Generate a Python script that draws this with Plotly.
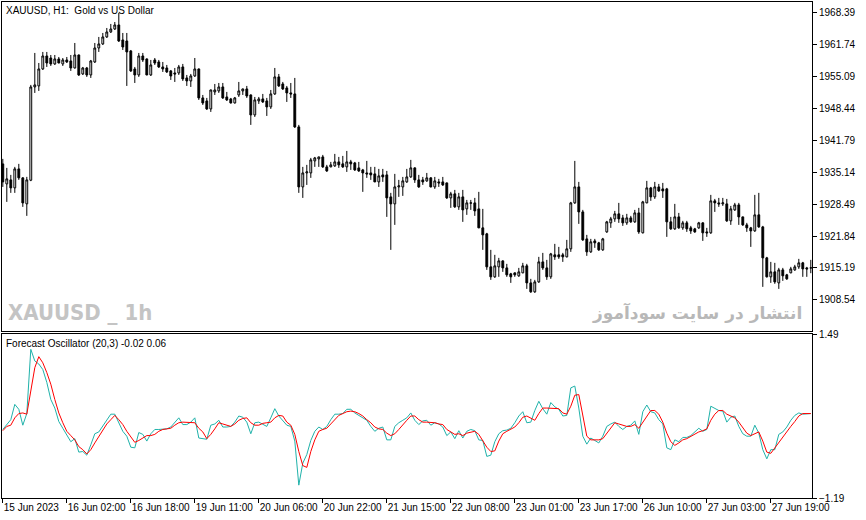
import plotly.graph_objects as go
from plotly.subplots import make_subplots

# bar numbers on the time axis (H1 bars, weekend gaps removed)
bars = list(range(203))

opens = [
    1936.90, 1932.73, 1933.57, 1931.90, 1935.86, 1933.99, 1928.57, 1933.50, 1952.96, 1953.17,
    1956.71, 1959.42, 1959.00, 1957.76, 1958.80, 1957.76, 1958.59, 1958.38, 1956.92, 1959.63,
    1955.67, 1956.92, 1955.46, 1958.17, 1961.09, 1961.93, 1963.39, 1964.43, 1965.05, 1965.89,
    1962.76, 1962.55, 1960.47, 1956.71, 1955.46, 1959.42, 1958.80, 1955.46, 1958.59, 1958.17,
    1957.13, 1956.92, 1956.30, 1955.88, 1955.88, 1957.13, 1954.84, 1954.21, 1955.25, 1956.71,
    1950.67, 1950.04, 1948.37, 1951.92, 1952.13, 1952.96, 1950.87, 1950.46, 1949.62, 1951.29,
    1952.13, 1952.54, 1951.29, 1947.12, 1950.04, 1950.46, 1950.04, 1948.79, 1951.50, 1955.05,
    1953.58, 1952.75, 1951.71, 1951.50, 1944.62, 1932.10, 1935.02, 1935.02, 1937.53, 1937.94,
    1938.36, 1936.28, 1936.28, 1936.49, 1937.32, 1936.91, 1936.28, 1937.32, 1937.11, 1936.07,
    1935.65, 1935.02, 1935.02, 1934.82, 1933.15, 1934.61, 1934.61, 1930.02, 1928.56, 1932.10,
    1932.10, 1933.15, 1934.19, 1936.07, 1933.57, 1933.57, 1933.36, 1933.99, 1932.10, 1933.15,
    1933.15, 1932.94, 1929.81, 1930.65, 1927.94, 1930.02, 1927.52, 1928.70, 1928.77, 1927.52,
    1923.56, 1922.31, 1915.42, 1913.34, 1915.42, 1916.67, 1915.21, 1913.96, 1914.17, 1913.55,
    1914.17, 1915.63, 1912.08, 1910.21, 1912.29, 1916.46, 1915.21, 1913.34, 1917.93, 1917.93,
    1917.93, 1917.51, 1919.18, 1928.77, 1932.10, 1926.89, 1921.26, 1918.55, 1920.84, 1920.43,
    1918.97, 1922.72, 1924.60, 1925.43, 1926.48, 1925.64, 1924.60, 1925.64, 1924.81, 1926.68,
    1922.52, 1928.77, 1931.90, 1930.02, 1932.10, 1931.69, 1931.69, 1924.81, 1923.35, 1925.85,
    1923.56, 1924.60, 1923.56, 1923.35, 1923.56, 1924.60, 1922.72, 1922.52, 1929.19, 1928.77,
    1928.56, 1928.56, 1925.02, 1927.31, 1928.35, 1925.85, 1924.18, 1923.56, 1922.93, 1926.27,
    1923.76, 1917.30, 1913.34, 1914.38, 1912.08, 1914.79, 1913.76, 1914.17, 1914.79, 1915.42,
    1916.26, 1915.21, 1915.21,
]

highs = [
    1937.95, 1936.07, 1934.61, 1936.28, 1936.91, 1934.10, 1934.20, 1953.38, 1960.05, 1957.96,
    1960.26, 1960.26, 1959.63, 1959.63, 1959.21, 1959.00, 1959.21, 1959.63, 1962.13, 1959.70,
    1957.13, 1957.13, 1958.59, 1962.13, 1963.39, 1964.22, 1965.26, 1966.10, 1966.51, 1968.39,
    1964.22, 1964.22, 1960.67, 1957.13, 1960.05, 1960.05, 1958.90, 1958.59, 1959.00, 1958.59,
    1958.17, 1957.55, 1956.50, 1956.92, 1957.55, 1957.76, 1955.46, 1955.67, 1959.00, 1956.80,
    1951.29, 1950.67, 1952.40, 1953.58, 1953.79, 1953.79, 1951.92, 1950.67, 1950.87, 1954.00,
    1952.60, 1953.17, 1951.40, 1950.87, 1950.87, 1951.50, 1950.67, 1952.33, 1956.92, 1955.67,
    1954.00, 1953.17, 1953.79, 1954.84, 1945.04, 1936.28, 1936.70, 1938.15, 1938.36, 1938.40,
    1938.78, 1936.70, 1937.32, 1938.99, 1938.36, 1938.57, 1939.61, 1937.74, 1937.32, 1937.32,
    1935.86, 1937.53, 1936.28, 1936.28, 1935.86, 1935.86, 1935.44, 1930.86, 1934.82, 1933.57,
    1934.19, 1935.86, 1937.74, 1936.20, 1934.61, 1934.19, 1935.02, 1934.10, 1934.19, 1933.78,
    1934.19, 1933.00, 1931.07, 1931.48, 1930.86, 1931.48, 1929.39, 1929.39, 1929.81, 1931.07,
    1927.52, 1922.52, 1918.97, 1917.93, 1917.30, 1916.80, 1916.05, 1914.17, 1914.20, 1915.21,
    1916.26, 1916.05, 1912.92, 1912.71, 1917.51, 1918.34, 1916.88, 1918.34, 1920.22, 1919.59,
    1918.34, 1921.05, 1928.98, 1937.53, 1933.15, 1927.31, 1922.10, 1921.26, 1921.26, 1920.64,
    1921.47, 1925.02, 1925.85, 1927.10, 1928.77, 1926.27, 1926.48, 1926.06, 1927.31, 1927.73,
    1929.19, 1933.36, 1932.10, 1933.15, 1932.73, 1932.94, 1931.90, 1925.85, 1928.56, 1926.68,
    1925.02, 1925.02, 1923.97, 1923.56, 1924.81, 1924.70, 1923.56, 1930.44, 1929.60, 1929.81,
    1929.81, 1929.60, 1928.14, 1928.77, 1928.77, 1925.90, 1924.60, 1923.76, 1930.44, 1930.86,
    1923.97, 1917.51, 1916.46, 1916.26, 1915.21, 1915.21, 1913.96, 1915.42, 1915.84, 1917.09,
    1916.46, 1915.42, 1916.88,
]

lows = [
    1932.10, 1928.98, 1930.86, 1930.86, 1933.57, 1927.94, 1926.06, 1933.30, 1951.71, 1952.13,
    1956.50, 1957.13, 1957.34, 1957.55, 1957.90, 1957.34, 1957.96, 1956.30, 1956.80, 1955.25,
    1955.46, 1955.05, 1954.84, 1957.96, 1960.26, 1961.72, 1963.18, 1964.22, 1964.84, 1962.34,
    1960.67, 1953.17, 1956.09, 1953.79, 1955.05, 1958.17, 1955.40, 1955.25, 1957.55, 1956.92,
    1956.09, 1955.88, 1954.42, 1954.00, 1955.46, 1954.21, 1953.17, 1952.96, 1955.05, 1950.25,
    1949.21, 1948.16, 1947.75, 1951.29, 1951.71, 1950.46, 1950.04, 1949.50, 1949.50, 1950.87,
    1951.29, 1950.67, 1945.04, 1946.70, 1949.41, 1949.62, 1946.91, 1948.37, 1951.29, 1952.96,
    1952.33, 1949.83, 1950.67, 1944.41, 1930.86, 1929.81, 1932.52, 1933.99, 1936.28, 1936.28,
    1936.07, 1935.23, 1936.20, 1936.28, 1936.07, 1936.07, 1935.23, 1935.65, 1935.44, 1935.23,
    1931.07, 1933.99, 1933.57, 1933.10, 1932.10, 1933.15, 1925.85, 1918.97, 1924.18, 1930.02,
    1930.23, 1932.94, 1933.99, 1932.94, 1931.90, 1932.52, 1933.15, 1932.00, 1931.69, 1932.10,
    1932.31, 1929.60, 1927.73, 1927.73, 1927.31, 1924.81, 1926.27, 1927.31, 1926.06, 1923.50,
    1918.97, 1914.79, 1912.71, 1913.13, 1913.34, 1914.38, 1913.34, 1912.08, 1913.34, 1913.34,
    1914.10, 1910.83, 1910.00, 1910.00, 1912.08, 1914.79, 1912.71, 1912.92, 1916.88, 1917.09,
    1916.46, 1917.40, 1918.55, 1928.56, 1924.39, 1920.84, 1917.72, 1918.34, 1919.39, 1918.76,
    1918.76, 1922.52, 1923.56, 1924.81, 1924.60, 1923.97, 1924.18, 1924.60, 1924.60, 1922.31,
    1922.40, 1928.70, 1929.19, 1929.60, 1931.07, 1929.81, 1921.68, 1923.14, 1923.14, 1923.35,
    1923.14, 1922.72, 1922.31, 1922.52, 1923.35, 1920.84, 1921.68, 1922.31, 1926.89, 1927.94,
    1928.14, 1924.81, 1924.18, 1927.10, 1924.18, 1923.97, 1922.72, 1919.59, 1922.72, 1923.56,
    1911.25, 1913.20, 1912.08, 1911.88, 1910.83, 1912.50, 1912.71, 1914.10, 1914.59, 1915.00,
    1913.34, 1913.34, 1914.10,
]

closes = [
    1933.15, 1933.78, 1931.90, 1935.86, 1933.99, 1928.77, 1933.57, 1952.96, 1953.38, 1956.71,
    1959.42, 1957.96, 1957.76, 1958.80, 1957.96, 1958.59, 1958.17, 1956.92, 1959.63, 1955.46,
    1956.92, 1955.46, 1958.38, 1961.09, 1961.93, 1963.39, 1964.43, 1965.05, 1965.89, 1962.55,
    1961.30, 1960.26, 1956.30, 1955.46, 1959.42, 1958.59, 1955.46, 1957.55, 1957.96, 1957.13,
    1956.71, 1956.09, 1955.25, 1955.67, 1957.13, 1954.63, 1954.21, 1955.25, 1956.71, 1950.67,
    1949.62, 1948.37, 1952.33, 1952.33, 1952.96, 1950.67, 1950.25, 1949.62, 1950.67, 1952.13,
    1952.54, 1951.08, 1947.12, 1950.25, 1950.46, 1949.83, 1948.79, 1951.50, 1955.05, 1953.17,
    1952.54, 1951.71, 1951.50, 1944.62, 1932.10, 1935.02, 1935.23, 1937.74, 1938.15, 1938.36,
    1936.28, 1935.44, 1936.70, 1937.32, 1936.70, 1936.28, 1937.32, 1936.91, 1935.65, 1935.44,
    1935.02, 1934.82, 1934.61, 1933.15, 1934.40, 1934.19, 1929.81, 1928.56, 1932.10, 1932.31,
    1933.36, 1934.19, 1936.07, 1933.57, 1932.10, 1933.15, 1933.99, 1932.10, 1933.36, 1932.94,
    1932.52, 1929.81, 1930.65, 1927.94, 1930.02, 1927.31, 1928.77, 1928.77, 1927.10, 1923.56,
    1922.10, 1915.42, 1913.34, 1915.63, 1916.67, 1915.21, 1913.76, 1913.34, 1913.76, 1914.38,
    1915.63, 1912.08, 1910.21, 1912.29, 1916.46, 1915.21, 1913.34, 1918.13, 1917.51, 1917.51,
    1917.51, 1919.18, 1928.77, 1932.10, 1926.89, 1921.05, 1918.55, 1920.64, 1920.43, 1918.97,
    1921.26, 1924.81, 1925.43, 1926.48, 1925.43, 1924.60, 1925.64, 1924.81, 1926.68, 1922.72,
    1928.98, 1931.90, 1930.02, 1932.10, 1931.27, 1931.27, 1924.81, 1923.35, 1925.85, 1923.56,
    1924.60, 1923.35, 1922.93, 1922.72, 1924.60, 1922.52, 1922.52, 1929.19, 1928.77, 1928.56,
    1928.77, 1925.02, 1927.52, 1928.35, 1925.85, 1924.18, 1923.56, 1922.93, 1926.27, 1923.76,
    1917.30, 1913.34, 1914.38, 1912.29, 1914.79, 1913.55, 1912.92, 1915.00, 1915.42, 1916.26,
    1915.00, 1915.00, 1915.21,
]

# Forecast Oscillator (20,3): main line and signal line
fo_main = [
    -0.07, 0.02, 0.09, 0.34, 0.26, 0.00, 0.19, 1.24, 1.05, 1.00,
    0.91, 0.70, 0.42, 0.28, 0.06, -0.05, -0.15, -0.27, -0.22, -0.44,
    -0.43, -0.49, -0.32, -0.14, -0.11, -0.02, 0.09, 0.18, 0.18, 0.04,
    -0.10, -0.18, -0.36, -0.37, -0.12, -0.15, -0.26, -0.14, -0.07, -0.07,
    -0.06, -0.06, -0.03, 0.04, 0.12, 0.01, 0.01, 0.05, 0.12, -0.21,
    -0.22, -0.23, 0.00, 0.02, 0.08, -0.03, -0.03, -0.02, 0.05, 0.15,
    0.13, 0.05, -0.14, 0.04, 0.05, 0.02, -0.02, 0.12, 0.27, 0.15,
    0.08, 0.00, -0.02, -0.26, -0.98, -0.62, -0.48, -0.25, -0.10, -0.03,
    -0.07, -0.02, 0.09, 0.18, 0.18, 0.19, 0.26, 0.26, 0.20, 0.16,
    0.12, 0.08, -0.02, -0.10, -0.05, -0.03, -0.24, -0.24, -0.02, 0.04,
    0.08, 0.12, 0.20, 0.08, 0.01, 0.07, 0.08, 0.00, 0.04, 0.02,
    -0.03, -0.17, -0.11, -0.22, -0.09, -0.21, -0.10, -0.07, -0.09, -0.24,
    -0.25, -0.51, -0.49, -0.27, -0.14, -0.09, -0.08, -0.05, 0.04, 0.15,
    0.22, 0.04, 0.05, 0.24, 0.39, 0.27, 0.18, 0.37, 0.30, 0.26,
    0.15, 0.16, 0.61, 0.64, 0.28, -0.18, -0.31, -0.21, -0.25, -0.29,
    -0.18, -0.02, 0.02, 0.05, -0.02, -0.07, -0.02, 0.00, 0.07, -0.15,
    0.22, 0.33, 0.22, 0.20, 0.09, 0.02, -0.37, -0.40, -0.24, -0.27,
    -0.20, -0.20, -0.17, -0.11, -0.05, -0.10, -0.07, 0.31, 0.27, 0.24,
    0.23, 0.05, 0.13, 0.15, -0.02, -0.14, -0.18, -0.18, 0.00, -0.13,
    -0.40, -0.55, -0.40, -0.40, -0.15, -0.11, -0.03, 0.08, 0.16, 0.20,
    0.18, 0.19, 0.19,
]

fo_signal = [
    -0.09, -0.02, 0.00, 0.12, 0.19, 0.20, 0.18, 0.59, 0.94, 1.12,
    1.02, 0.86, 0.67, 0.42, 0.20, 0.04, -0.10, -0.17, -0.24, -0.35,
    -0.40, -0.47, -0.40, -0.29, -0.18, -0.07, 0.02, 0.09, 0.16, 0.09,
    0.01, -0.10, -0.20, -0.28, -0.25, -0.21, -0.17, -0.17, -0.15, -0.10,
    -0.07, -0.06, -0.05, 0.00, 0.04, 0.05, 0.05, 0.04, 0.04, -0.05,
    -0.11, -0.22, -0.15, -0.06, 0.04, 0.02, 0.00, -0.02, 0.02, 0.08,
    0.11, 0.12, 0.04, 0.00, 0.00, 0.03, 0.04, 0.05, 0.12, 0.16,
    0.15, 0.05, 0.00, -0.15, -0.43, -0.66, -0.69, -0.43, -0.24, -0.10,
    -0.07, -0.05, 0.02, 0.09, 0.16, 0.19, 0.22, 0.23, 0.22, 0.19,
    0.15, 0.09, 0.04, -0.03, -0.06, -0.07, -0.13, -0.17, -0.14, -0.07,
    0.01, 0.08, 0.15, 0.15, 0.09, 0.05, 0.05, 0.05, 0.04, 0.02,
    0.01, -0.07, -0.11, -0.15, -0.14, -0.17, -0.13, -0.11, -0.10, -0.15,
    -0.25, -0.36, -0.43, -0.42, -0.26, -0.14, -0.10, -0.07, -0.03, 0.04,
    0.13, 0.15, 0.12, 0.08, 0.19, 0.28, 0.28, 0.28, 0.28, 0.27,
    0.20, 0.18, 0.31, 0.49, 0.50, 0.15, -0.18, -0.24, -0.24, -0.24,
    -0.22, -0.13, -0.05, 0.04, 0.02, 0.00, -0.02, -0.02, 0.01, -0.05,
    0.05, 0.15, 0.24, 0.24, 0.18, 0.05, -0.13, -0.27, -0.33, -0.29,
    -0.24, -0.22, -0.18, -0.14, -0.11, -0.09, -0.06, 0.08, 0.18, 0.24,
    0.24, 0.18, 0.15, 0.12, 0.05, -0.05, -0.13, -0.17, -0.14, -0.11,
    -0.26, -0.44, -0.46, -0.37, -0.27, -0.18, -0.10, -0.02, 0.06, 0.15,
    0.19, 0.19, 0.19,
]

price_ticks = [1908.54, 1915.19, 1921.84, 1928.49, 1935.14,
               1941.79, 1948.44, 1955.09, 1961.74, 1968.39]
osc_ticks = [1.49, -1.19]
time_tick_bars = [0, 16, 32, 48, 64, 80, 96, 112, 128, 144, 160, 176, 192]
time_tick_labels = [
    "15 Jun 2023", "16 Jun 02:00", "16 Jun 18:00", "19 Jun 11:00", "20 Jun 06:00",
    "20 Jun 22:00", "21 Jun 15:00", "22 Jun 08:00", "23 Jun 01:00", "23 Jun 17:00",
    "26 Jun 10:00", "27 Jun 03:00", "27 Jun 19:00",
]

FONT = "Liberation Sans, Arial, sans-serif"

fig = make_subplots(rows=2, cols=1, shared_xaxes=True)

fig.add_trace(
    go.Candlestick(
        x=bars, open=opens, high=highs, low=lows, close=closes,
        increasing=dict(line=dict(color="black", width=1), fillcolor="white"),
        decreasing=dict(line=dict(color="black", width=1), fillcolor="black"),
        whiskerwidth=0, showlegend=False, hoverinfo="skip",
    ),
    row=1, col=1,
)
fig.add_trace(
    go.Scatter(x=bars, y=fo_main, mode="lines",
               line=dict(color="#20B2AA", width=1), showlegend=False),
    row=2, col=1,
)
fig.add_trace(
    go.Scatter(x=bars, y=fo_signal, mode="lines",
               line=dict(color="#FF0000", width=1), showlegend=False),
    row=2, col=1,
)

axis_common = dict(showline=True, mirror=True, linecolor="black", linewidth=1,
                   showgrid=False, zeroline=False, automargin=False)

fig.update_layout(
    width=866, height=520,
    margin=dict(l=2, r=54, t=2, b=22),
    paper_bgcolor="white", plot_bgcolor="white",
    font=dict(family=FONT, size=10, color="black"),
    boxgap=0.35,
    xaxis=dict(**axis_common, range=[-0.2, 202.3], showticklabels=False,
               ticks="", rangeslider=dict(visible=False)),
    xaxis2=dict(**axis_common, range=[-0.2, 202.3], tickmode="array",
                tickvals=time_tick_bars, ticktext=time_tick_labels, tickangle=0,
                ticks="outside", ticklen=4, tickcolor="black",
                ticklabelposition="outside right"),
    yaxis=dict(**axis_common, domain=[0.336, 1.0], side="right",
               range=[1901.97, 1970.68], tickmode="array", tickvals=price_ticks,
               tickformat=".2f", ticks="outside", ticklen=4, tickcolor="black"),
    yaxis2=dict(**axis_common, domain=[0.0, 0.3306], side="right",
                range=[-1.19, 1.49], tickmode="array", tickvals=osc_ticks,
                tickformat=".2f", ticks="outside", ticklen=4, tickcolor="black"),
)

fig.add_annotation(
    text="XAUUSD, H1:\u00a0\u00a0Gold vs US Dollar", xref="x domain", yref="y domain",
    x=0.003, y=0.997, xanchor="left", yanchor="top", showarrow=False,
    font=dict(family=FONT, size=10, color="black"),
)
fig.add_annotation(
    text="Forecast Oscillator (20,3) -0.02 0.06", xref="x2 domain", yref="y2 domain",
    x=0.003, y=0.99, xanchor="left", yanchor="top", showarrow=False,
    font=dict(family=FONT, size=10, color="black"),
)
fig.add_annotation(
    text="<b>XAUUSD _ 1h</b>", xref="x domain", yref="y domain",
    x=0.005, y=0.056, xanchor="left", yanchor="middle", showarrow=False,
    font=dict(family="DejaVu Sans Condensed, Liberation Sans, sans-serif",
              size=22, color="#c4c4c4"),
)
fig.add_annotation(
    text="<b>انتشار در سایت سودآموز</b>", xref="x domain", yref="y domain",
    x=0.99, y=0.055, xanchor="right", yanchor="middle", showarrow=False,
    font=dict(family="DejaVu Sans, sans-serif", size=17, color="#b8b8b8"),
)

# the page body has a default 8px margin; remove it so the chart sits at the corner
fig.write_html("out.html", config={"displayModeBar": False},
               post_script="document.body.style.margin='0px';")
